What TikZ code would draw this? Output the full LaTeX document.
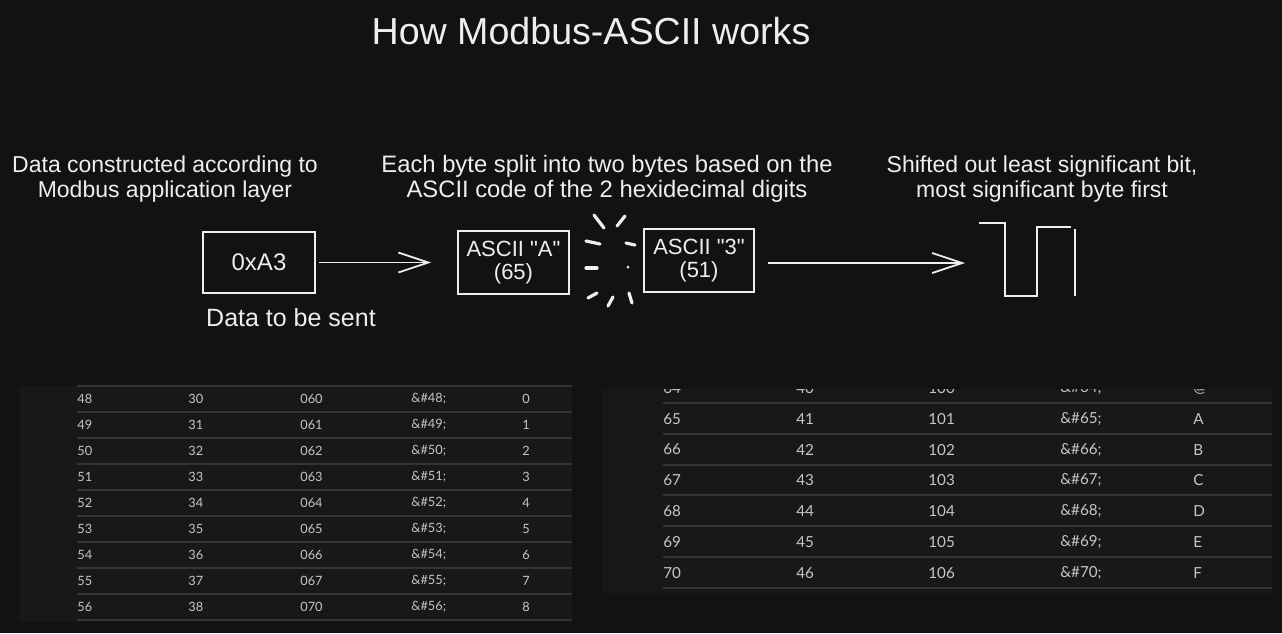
\documentclass[tikz,border=0pt]{standalone}
\usepackage{fontspec}
\setmainfont{Liberation Sans}
\newfontfamily\tabfont{Lato}
\usetikzlibrary{arrows.meta}
\definecolor{bg}{HTML}{121212}
\definecolor{panel}{HTML}{181818}
\definecolor{rule}{HTML}{343434}
\definecolor{tabtext}{HTML}{C6C6C6}
\definecolor{ink}{HTML}{EEEEEE}
\tikzset{
  hand/.style={text=ink, inner sep=0pt, align=center},
  title/.style={hand, font=\fontsize{18.8}{22}\selectfont},
  desc/.style={hand, font=\fontsize{11.5}{12.5}\selectfont},
  boxlabel/.style={hand, font=\fontsize{12.5}{12.5}\selectfont},
  databox/.style={draw=ink, line width=0.8pt, inner sep=0pt, text=ink, align=center,
    font=\fontsize{11}{11.5}\selectfont},
  arr/.style={draw=ink, line width=0.9pt, -{Straight Barb[length=15pt,width=10pt,line width=0.9pt]}},
  spark/.style={draw=ink, line width=1.6pt, line cap=round},
  wave/.style={draw=ink, line width=0.9pt, line join=miter},
  tabL/.style={text=tabtext, anchor=west, inner sep=0pt, font=\tabfont\fontsize{6.4}{7}\selectfont},
  tabR/.style={text=tabtext, anchor=west, inner sep=0pt, font=\tabfont\fontsize{7.6}{8}\selectfont},
  ruleline/.style={draw=rule, line width=1pt}
}
\begin{document}
\begin{tikzpicture}[x=0.5pt,y=-0.5pt]
\useasboundingbox (0,0) rectangle (1282,633);
\fill[bg] (0,0) rectangle (1282,633);

% title
\node[title] (title) at (591,31) {How Modbus-ASCII works};

% descriptions
\node[desc] (d1) at (165,179) {Data constructed according to\\Modbus application layer};
\node[desc, font=\fontsize{11.9}{12.5}\selectfont] (d2) at (607,179) {Each byte split into two bytes based on the\\ASCII code of the 2 hexidecimal digits};
\node[desc] (d3) at (1042,179) {Shifted out least significant bit,\\most significant byte first};

% boxes
\node[databox, minimum width=56pt, minimum height=30.5pt, font=\fontsize{12}{12}\selectfont] (b1) at (259,262.5) {0xA3};
\node[boxlabel] (lbl) at (291,318) {Data to be sent};
\node[databox, minimum width=55.5pt, minimum height=31.5pt] (bA) at (513.5,262.5) {ASCII \textquotedbl A\textquotedbl\\(65)};
\node[databox, minimum width=55pt, minimum height=31.5pt] (b3) at (699,260.5) {ASCII \textquotedbl 3\textquotedbl\\(51)};

% arrows
\draw[arr, shorten <=1.5pt, shorten >=13pt] (b1) -- (bA);
\coordinate (wv) at (979,263);
\draw[arr, shorten <=6.75pt, shorten >=7pt] (b3.east |- wv) -- (wv);

% square wave
\draw[wave] (979,223) -- (1005,223) -- (1005,296) -- (1037,296) -- (1037,227) -- (1071,227);
\draw[wave] (1075,229) -- (1075,296);

% sparkle
\draw[spark] (594,215) -- (604,228);
\draw[spark] (617,226) -- (625,216);
\draw[spark] (586,241) -- (600,244);
\draw[spark] (626,243) -- (635,245);
\draw[spark] (586,268) -- (597,268);
\fill[ink] (628,267) circle (1.5);
\draw[spark] (588,298) -- (597,293);
\draw[spark] (608,306) -- (613,297);
\draw[spark] (629,293) -- (632,303);

% left table
\fill[panel] (20,386) rectangle (572,622);
\foreach \k in {0,...,9} {
  \draw[ruleline] (77,{386+26*\k}) -- (572,{386+26*\k});
}
\foreach \a/\b/\c/\d/\e [count=\i from 0] in {48/30/060/48/0, 49/31/061/49/1, 50/32/062/50/2, 51/33/063/51/3, 52/34/064/52/4, 53/35/065/53/5, 54/36/066/54/6, 55/37/067/55/7, 56/38/070/56/8} {
  \node[tabL] (L\i a) at (77,{399+26*\i}) {\a};
  \node[tabL] (L\i b) at (188,{399+26*\i}) {\b};
  \node[tabL] (L\i c) at (300,{399+26*\i}) {\c};
  \node[tabL] (L\i d) at (411,{399+26*\i}) {\&\#\d;};
  \node[tabL] (L\i e) at (522,{399+26*\i}) {\e};
}

% right table
\fill[panel] (602,389) rectangle (1272,593);
\begin{scope}
\clip (602,389) rectangle (1272,593);
\foreach \k in {0,...,6} {
  \draw[ruleline] (663,{403+30.8*\k}) -- (1272,{403+30.8*\k});
}
\foreach \a/\b/\c/\d/\e [count=\i from 0] in {64/40/100/64/@, 65/41/101/65/A, 66/42/102/66/B, 67/43/103/67/C, 68/44/104/68/D, 69/45/105/69/E, 70/46/106/70/F} {
  \node[tabR] (R\i a) at (663,{388+30.8*\i}) {\a};
  \node[tabR] (R\i b) at (796,{388+30.8*\i}) {\b};
  \node[tabR] (R\i c) at (928,{388+30.8*\i}) {\c};
  \node[tabR] (R\i d) at (1060,{388+30.8*\i}) {\&\#\d;};
  \node[tabR] (R\i e) at (1193,{388+30.8*\i}) {\e};
}
\end{scope}
\end{tikzpicture}
\end{document}
